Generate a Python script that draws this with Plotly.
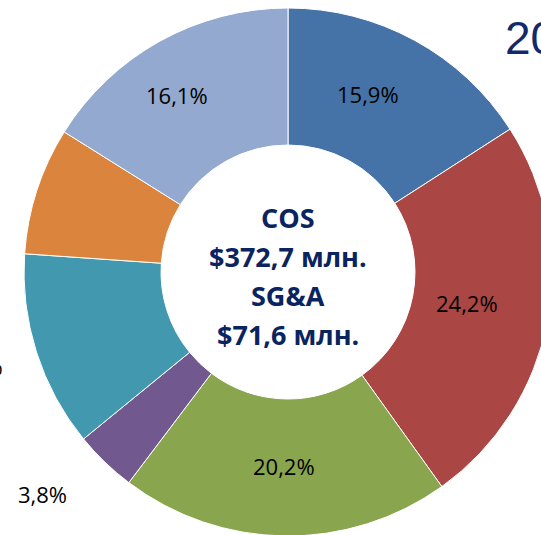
import plotly.graph_objects as go

# ---- data ----
categories = ["A", "B", "C", "D", "E", "F", "G"]
shares = [15.9, 24.2, 20.2, 3.8, 12.0, 7.8, 16.1]
colors = ["#4572A7", "#AA4643", "#89A54E", "#71588F", "#4198AF", "#DB843D", "#93A9CF"]
center_lines = ["COS", "$372,7 млн.", "SG&A", "$71,6 млн."]
title_text = "2012"

W, H = 560, 540
cx, cy, R = 288, 272, 264


def px(x):
    return x / W


def py(y):
    return 1 - y / H


def fmt(v):
    return ("%.1f%%" % v).replace(".", ",")


fig = go.Figure()
fig.add_trace(go.Pie(
    labels=categories,
    values=shares,
    hole=127 / 264,
    sort=False,
    direction="clockwise",
    rotation=0,
    marker=dict(colors=colors, line=dict(color="#FFFFFF", width=1)),
    textinfo="none",
    domain=dict(x=[px(cx - R), px(cx + R)], y=[py(cy + R), py(cy - R)]),
    showlegend=False,
    hoverinfo="label+percent",
))

annotations = []
# centre text
for line, yy in zip(center_lines, [217, 256, 295, 334]):
    annotations.append(dict(
        x=px(cx), y=py(yy), xref="paper", yref="paper", text="<b>%s</b>" % line,
        showarrow=False, xanchor="center", yanchor="middle",
        font=dict(family="Open Sans", size=27, color="#0A2460"),
    ))

# slice labels (label anchor positions in pixels); the orange slice's label lies off the canvas
label_pos = [(368, 94, "center"), (467, 303, "center"), (284, 466, "center"),
             (42, 494, "center"), (5, 366, "right"), None, (177, 95, "center")]
for v, pos in zip(shares, label_pos):
    if pos is None:
        continue
    lx, ly, anc = pos
    annotations.append(dict(
        x=px(lx), y=py(ly), xref="paper", yref="paper", text=fmt(v),
        showarrow=False, xanchor=anc, yanchor="middle",
        font=dict(family="Open Sans", size=22, color="#000000"),
    ))

# title, partly off-canvas
annotations.append(dict(x=px(503), y=py(38), xref="paper", yref="paper", text=title_text,
                        showarrow=False, xanchor="left", yanchor="middle",
                        font=dict(family="Liberation Sans", size=46, color="#12296B")))

fig.update_layout(
    width=W, height=H, autosize=False,
    margin=dict(l=0, r=0, t=0, b=0),
    paper_bgcolor="#FFFFFF", plot_bgcolor="#FFFFFF",
    separators=", ",
    annotations=annotations,
)

fig.write_html(
    "out.html",
    config={"displayModeBar": False},
    post_script="document.documentElement.style.overflow='hidden';"
                "document.body.style.overflow='hidden';document.body.style.margin='0';",
)
